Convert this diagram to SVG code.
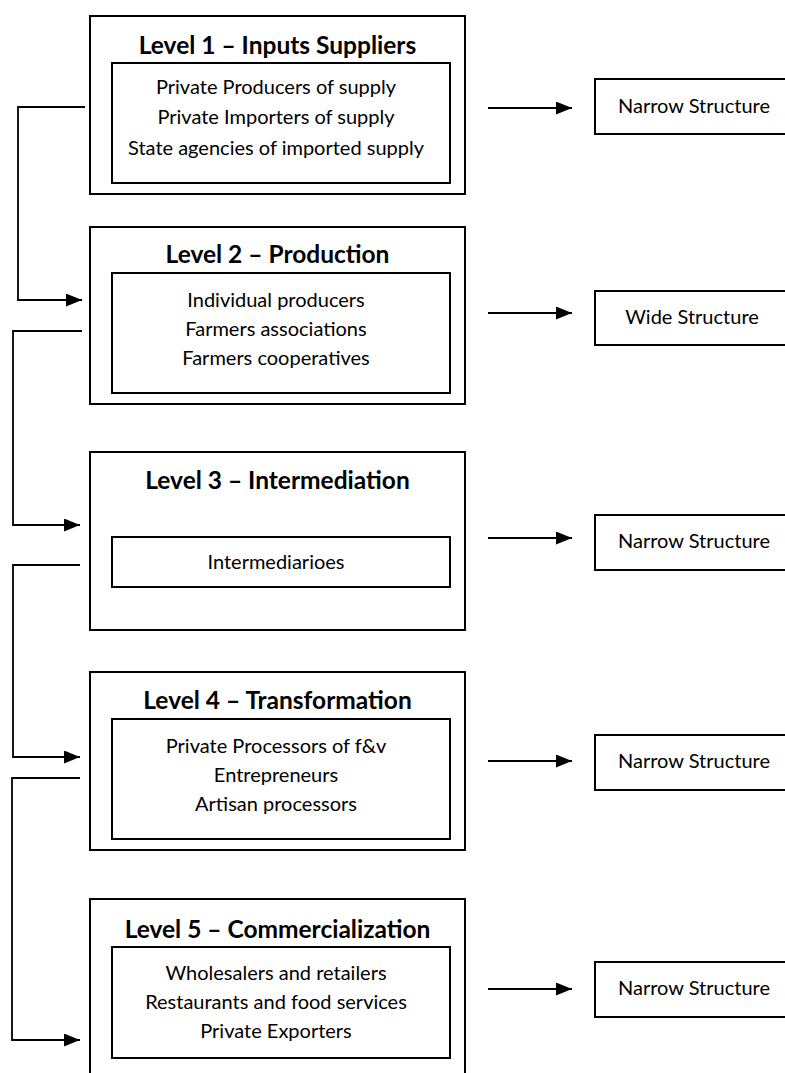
<svg xmlns="http://www.w3.org/2000/svg" width="785" height="1073" viewBox="0 0 785 1073">
<defs>
<marker id="ah" markerUnits="userSpaceOnUse" markerWidth="17" markerHeight="14" refX="16" refY="6.5" orient="auto">
<path d="M0,0 L16,6.5 L0,13 Z" fill="#000"/>
</marker>
</defs>
<style>
rect{fill:#fff;stroke:#000;stroke-width:2}
.t{font-family:Lato,"Liberation Sans",sans-serif;font-weight:bold;font-size:24.5px;text-anchor:middle;fill:#000}
.b{font-family:Lato,"Liberation Sans",sans-serif;font-size:20px;text-anchor:middle;fill:#000}
.c{fill:none;stroke:#000;stroke-width:1.8}
</style>
<rect x="0" y="0" width="785" height="1073" style="fill:#fff;stroke:none"/>
<g id="level1">
<rect x="90" y="16" width="375" height="178"/>
<text class="t" x="277.5" y="54">Level 1 – Inputs Suppliers</text>
<rect x="112" y="63" width="338" height="120"/>
<text class="b" x="276" y="94">Private Producers of supply</text>
<text class="b" x="276" y="124">Private Importers of supply</text>
<text class="b" x="276" y="155">State agencies of imported supply</text>
</g>
<g id="level2">
<rect x="90" y="227" width="375" height="177"/>
<text class="t" x="277.5" y="263">Level 2 – Production</text>
<rect x="112" y="273" width="338" height="120"/>
<text class="b" x="276" y="307">Individual producers</text>
<text class="b" x="276" y="336">Farmers associations</text>
<text class="b" x="276" y="365">Farmers cooperatives</text>
</g>
<g id="level3">
<rect x="90" y="452" width="375" height="178"/>
<text class="t" x="277.5" y="489">Level 3 – Intermediation</text>
<rect x="112" y="537" width="338" height="50"/>
<text class="b" x="276" y="569">Intermediarioes</text>
</g>
<g id="level4">
<rect x="90" y="672" width="375" height="178"/>
<text class="t" x="277.5" y="709">Level 4 – Transformation</text>
<rect x="112" y="719" width="338" height="120"/>
<text class="b" x="276" y="753">Private Processors of f&amp;v</text>
<text class="b" x="276" y="782">Entrepreneurs</text>
<text class="b" x="276" y="811">Artisan processors</text>
</g>
<g id="level5">
<rect x="90" y="899" width="375" height="190"/>
<text class="t" x="277.5" y="938">Level 5 – Commercialization</text>
<rect x="112" y="947" width="338" height="111"/>
<text class="b" x="276" y="980">Wholesalers and retailers</text>
<text class="b" x="276" y="1009">Restaurants and food services</text>
<text class="b" x="276" y="1038">Private Exporters</text>
</g>
<g id="struct1">
<rect x="595" y="79" width="198" height="55"/>
<text class="b" x="694" y="113">Narrow Structure</text>
</g>
<g id="struct2">
<rect x="595" y="291" width="198" height="54"/>
<text class="b" x="692" y="324">Wide Structure</text>
</g>
<g id="struct3">
<rect x="595" y="515" width="198" height="55"/>
<text class="b" x="694" y="548">Narrow Structure</text>
</g>
<g id="struct4">
<rect x="595" y="735" width="198" height="55"/>
<text class="b" x="694" y="768">Narrow Structure</text>
</g>
<g id="struct5">
<rect x="595" y="962" width="198" height="55"/>
<text class="b" x="694" y="995">Narrow Structure</text>
</g>
<g id="connectors">
<path class="c" d="M85,107 H18 V300 H82" marker-end="url(#ah)"/>
<path class="c" d="M82,331 H13 V525 H80" marker-end="url(#ah)"/>
<path class="c" d="M80,565 H13 V757 H80" marker-end="url(#ah)"/>
<path class="c" d="M80,778 H12 V1040 H80" marker-end="url(#ah)"/>
<path class="c" d="M488,108 H572" marker-end="url(#ah)"/>
<path class="c" d="M488,313 H572" marker-end="url(#ah)"/>
<path class="c" d="M488,538 H572" marker-end="url(#ah)"/>
<path class="c" d="M488,761 H572" marker-end="url(#ah)"/>
<path class="c" d="M488,989 H572" marker-end="url(#ah)"/>
</g>
</svg>
